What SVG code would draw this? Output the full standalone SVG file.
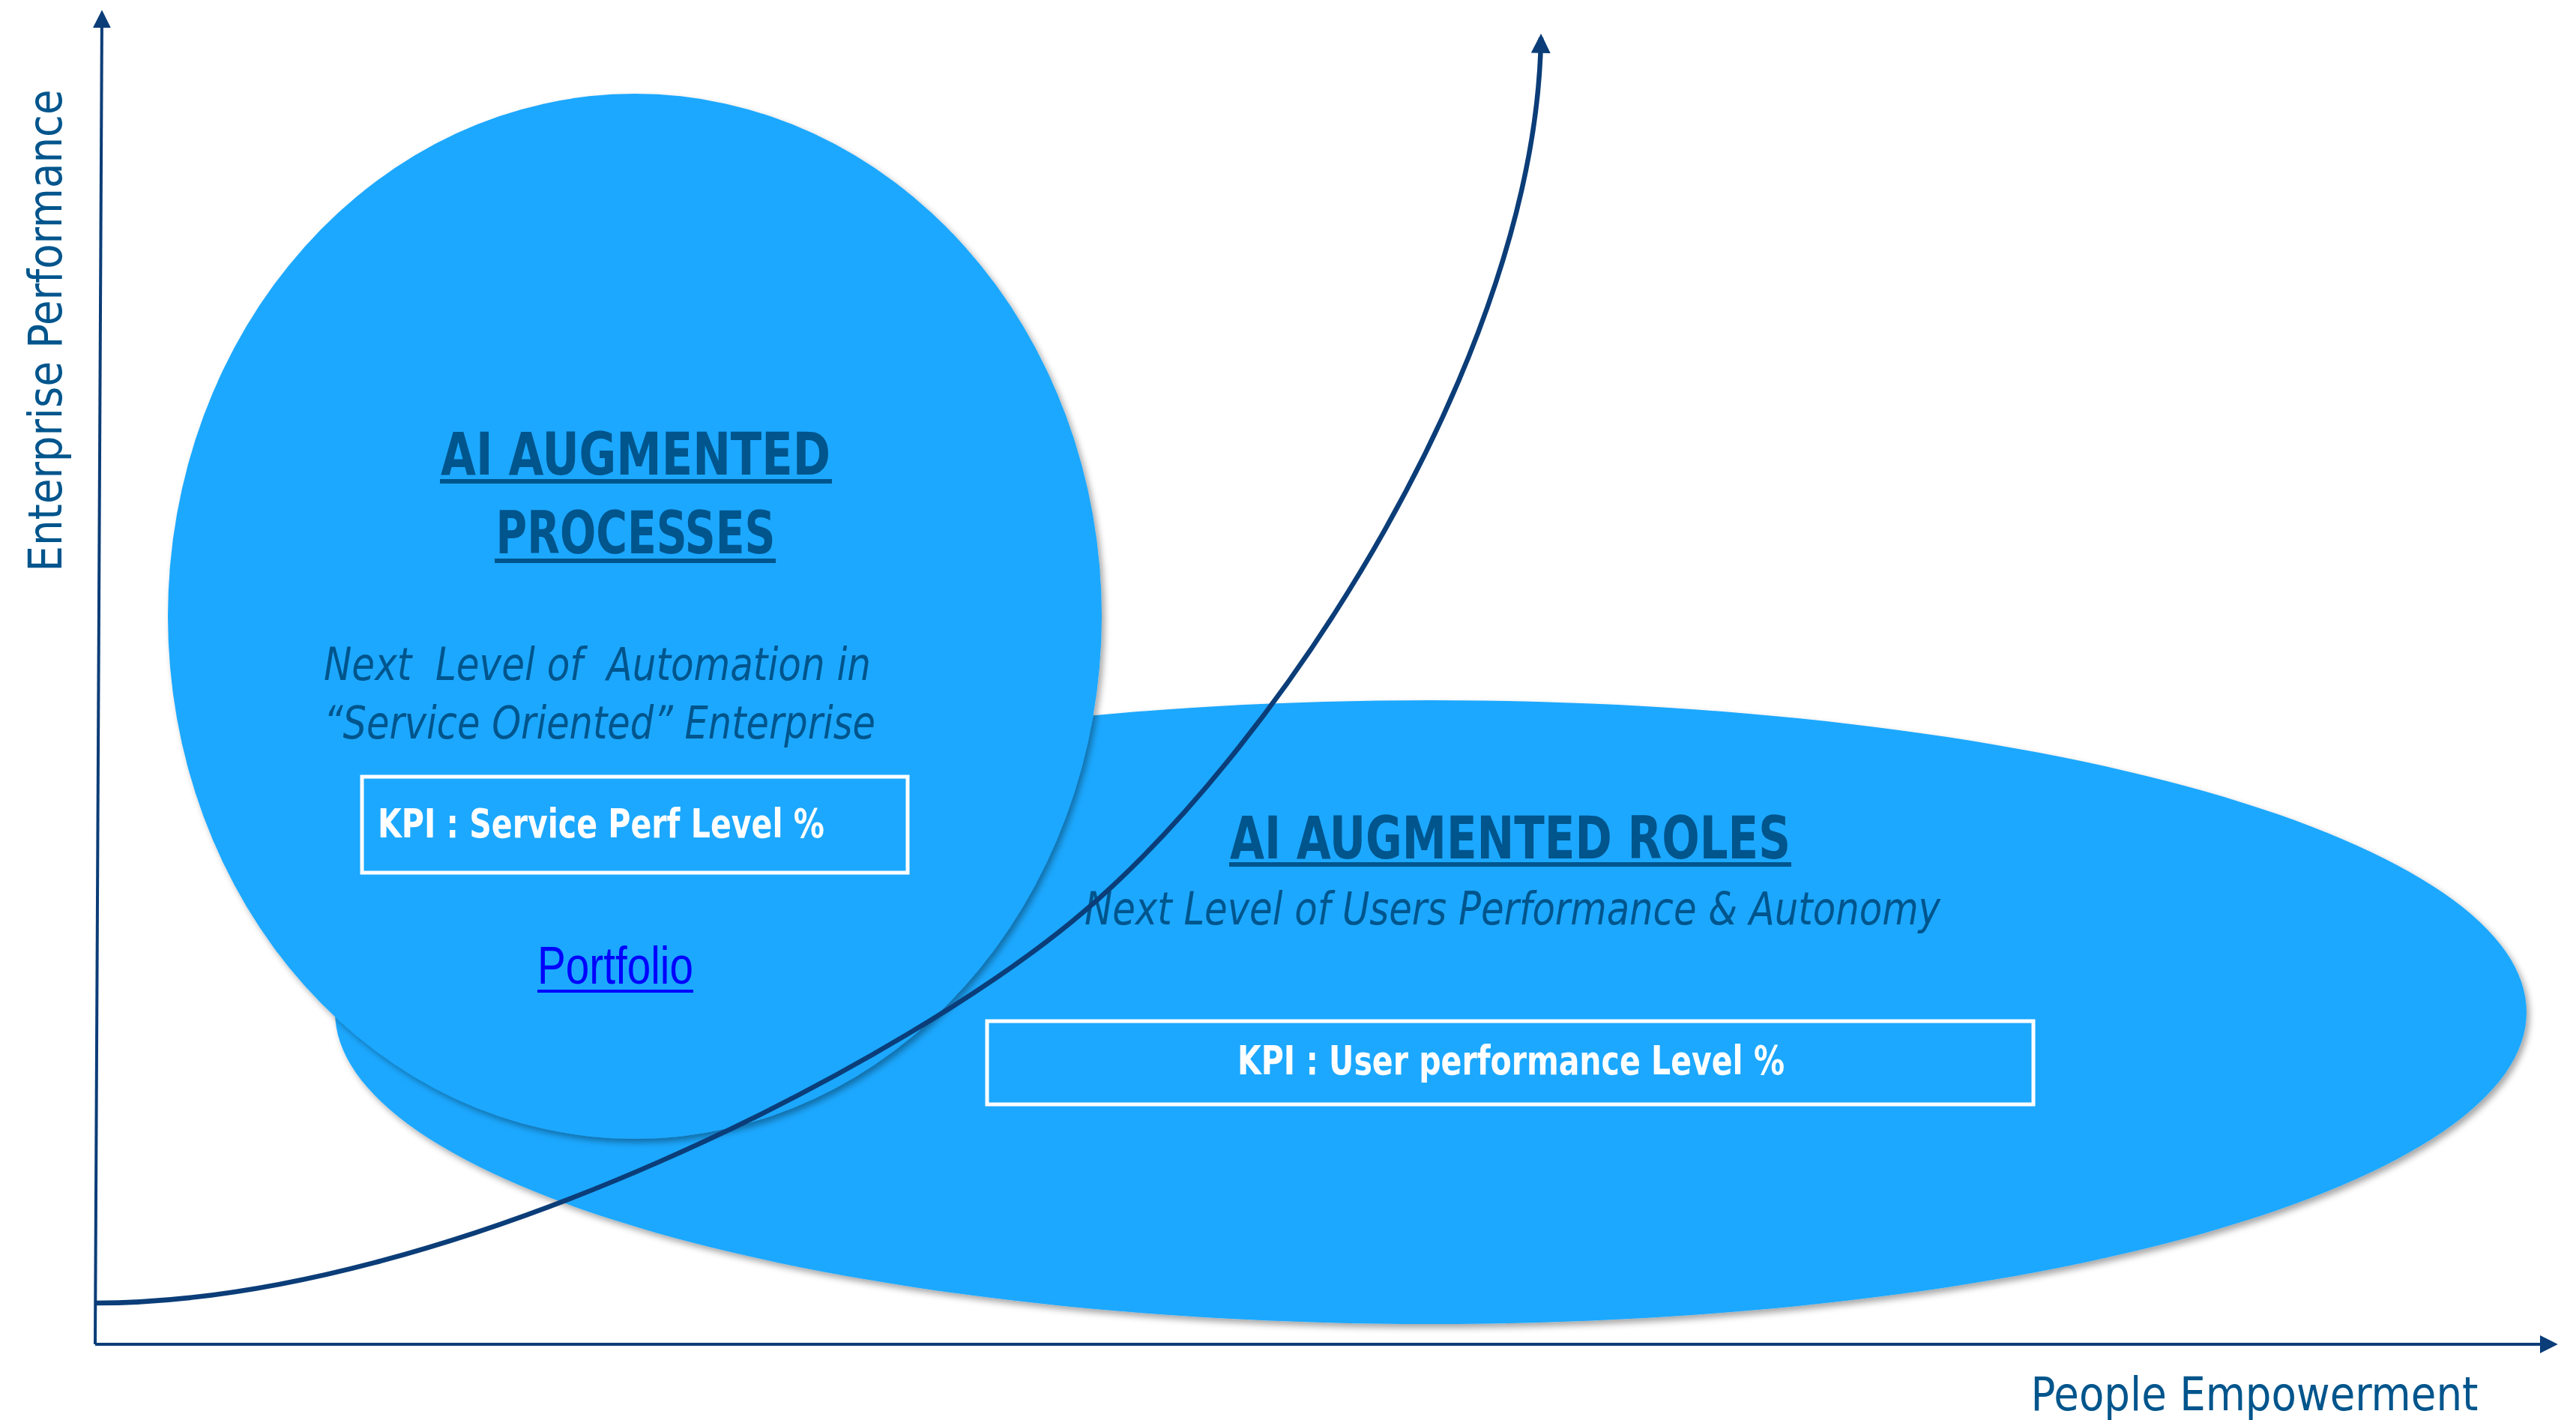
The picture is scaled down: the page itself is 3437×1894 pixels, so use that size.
<svg xmlns="http://www.w3.org/2000/svg" width="3437" height="1894" viewBox="0 0 3437 1894">
  <style>
    .blob { fill: #1FA8FF; }
    .title { font-family: "Liberation Sans Narrow", "DejaVu Sans Condensed", "Liberation Sans", sans-serif; font-weight: bold; fill: #00558C; }
    .sub { font-family: "Liberation Sans Narrow", "DejaVu Sans Condensed", "Liberation Sans", sans-serif; font-style: italic; fill: #00558C; }
    .kpi { font-family: "Liberation Sans Narrow", "DejaVu Sans Condensed", "Liberation Sans", sans-serif; font-weight: bold; fill: #FFFFFF; }
    .kbox { fill: none; stroke: #FFFFFF; stroke-width: 5; }
    .axislbl { font-family: "Liberation Sans Narrow", "DejaVu Sans Condensed", "Liberation Sans", sans-serif; fill: #00558C; }
    .ul { fill: #00558C; }
    .axis { fill: none; stroke: #0B3D78; stroke-width: 4; }
    .curve { fill: none; stroke: #0B3D78; stroke-width: 6.5; }
  </style>
  <defs>
    <filter id="shadow" x="-5%" y="-5%" width="115%" height="115%">
      <feDropShadow dx="4" dy="5" stdDeviation="4" flood-color="#000000" flood-opacity="0.35"/>
    </filter>
    <marker id="ah" viewBox="0 0 10 10" refX="8" refY="5" markerWidth="6" markerHeight="6" markerUnits="strokeWidth" orient="auto">
      <path d="M0,0 L10,5 L0,10 z" fill="#0B3D78"/>
    </marker>
    <marker id="ahc" viewBox="0 0 10 10" refX="8" refY="5" markerWidth="4" markerHeight="4" markerUnits="strokeWidth" orient="auto">
      <path d="M0,0 L10,5 L0,10 z" fill="#0B3D78"/>
    </marker>
  </defs>
  <rect width="3437" height="1894" fill="#FFFFFF"/>

  <g id="roles">
    <ellipse class="blob" cx="1909" cy="1350" rx="1462" ry="416" filter="url(#shadow)"/>
    <text class="title" x="2015" y="1145" font-size="78" text-anchor="middle" textLength="748" lengthAdjust="spacingAndGlyphs">AI AUGMENTED ROLES</text>
    <rect class="ul" x="1640" y="1150" width="750" height="6"/>
    <text class="sub" x="2018" y="1233" font-size="60" text-anchor="middle" textLength="1142" lengthAdjust="spacingAndGlyphs">Next Level of Users Performance &amp; Autonomy</text>
    <rect class="kbox" x="1317" y="1362" width="1396" height="111"/>
    <text class="kpi" x="2016" y="1433" font-size="54" text-anchor="middle" textLength="730" lengthAdjust="spacingAndGlyphs">KPI : User performance Level %</text>
  </g>

  <g id="processes">
    <ellipse class="blob" cx="847" cy="822" rx="623" ry="697" filter="url(#shadow)"/>
    <text class="title" x="848" y="633" font-size="78" text-anchor="middle" textLength="520" lengthAdjust="spacingAndGlyphs">AI AUGMENTED</text>
    <rect class="ul" x="587" y="639" width="523" height="6"/>
    <text class="title" x="848" y="738" font-size="78" text-anchor="middle" textLength="373" lengthAdjust="spacingAndGlyphs">PROCESSES</text>
    <rect class="ul" x="660" y="745" width="375" height="6"/>
    <text class="sub" x="797" y="907" font-size="60" text-anchor="middle" textLength="730" lengthAdjust="spacingAndGlyphs" xml:space="preserve">Next  Level of  Automation in</text>
    <text class="sub" x="800" y="985" font-size="60" text-anchor="middle" textLength="736" lengthAdjust="spacingAndGlyphs">“Service Oriented” Enterprise</text>
    <rect class="kbox" x="483" y="1036" width="728" height="128"/>
    <text class="kpi" x="504" y="1117" font-size="54" textLength="596" lengthAdjust="spacingAndGlyphs">KPI : Service Perf Level %</text>
    <text x="821" y="1312" font-family="'Liberation Sans Narrow', 'Liberation Sans', sans-serif" font-size="70" fill="#0000FF" text-anchor="middle" textLength="208" lengthAdjust="spacingAndGlyphs">Portfolio</text>
    <rect x="717" y="1320" width="208" height="4" fill="#0000FF"/>
  </g>

  <g id="connectors">
    <path class="axis" d="M127,1793 L136,18" marker-end="url(#ah)"/>
    <path class="axis" d="M127,1793 L3408,1793" marker-end="url(#ah)"/>
    <path class="curve" d="M127,1738 C600,1738 1218,1411 1446,1216 C1712,989 2050,470 2056,50" marker-end="url(#ahc)"/>
  </g>

  <g id="axis-labels">
    <text class="axislbl" x="0" y="0" font-size="62" text-anchor="middle" textLength="643" lengthAdjust="spacingAndGlyphs" transform="translate(82,441) rotate(-90)">Enterprise Performance</text>
    <text class="axislbl" x="3008" y="1881" font-size="62" text-anchor="middle" textLength="597" lengthAdjust="spacingAndGlyphs">People Empowerment</text>
  </g>
</svg>
